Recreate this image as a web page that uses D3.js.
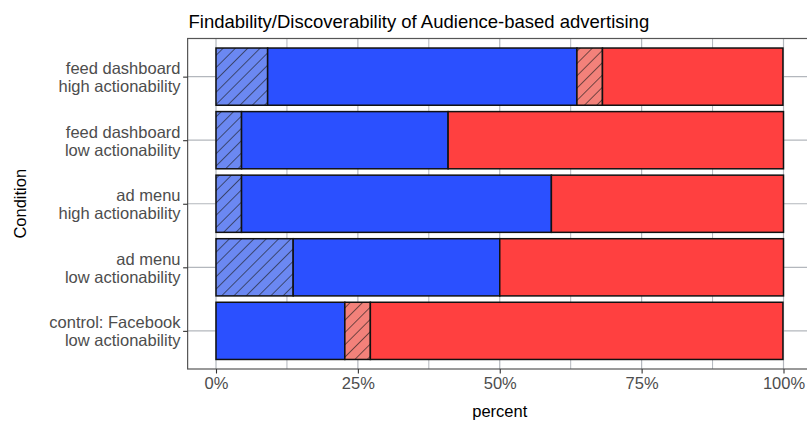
<!DOCTYPE html>
<html>
<head>
<meta charset="utf-8">
<script src="https://cdn.jsdelivr.net/npm/d3@7"></script>
<style>
  html, body { margin: 0; padding: 0; background: #fff; }
  text { font-family: "Liberation Sans", Arial, Helvetica, sans-serif; }
</style>
</head>
<body>
<svg id="chart" width="807" height="422"></svg>
<script>
// ---- data ----
const categories = [
  ["feed dashboard", "high actionability"],
  ["feed dashboard", "low actionability"],
  ["ad menu", "high actionability"],
  ["ad menu", "low actionability"],
  ["control: Facebook", "low actionability"]
];
const seriesKeys = ["hatchedBlue", "blue", "hatchedRed", "red"];
const hatchedBlue = [9.1, 4.5, 4.5, 13.6, 0];
const blue        = [54.5, 36.4, 54.6, 36.4, 22.7];
const hatchedRed  = [4.5, 0, 0, 0, 4.5];
const red         = [31.8, 59.1, 40.9, 50.0, 72.7];
const xTicks = [0, 25, 50, 75, 100];
const xMinor = [12.5, 37.5, 62.5, 87.5];
const title = "Findability/Discoverability of Audience-based advertising";
const xTitle = "percent";
const yTitle = "Condition";

const fills = {
  hatchedBlue: "url(#hatchBlue)",
  blue: "#2b50ff",
  hatchedRed: "url(#hatchRed)",
  red: "#ff4040"
};

// ---- build ----
const svg = d3.select("#chart");
const catKeys = categories.map(c => c.join("\n"));
const rows = catKeys.map((k, i) => ({
  key: k,
  hatchedBlue: hatchedBlue[i], blue: blue[i], hatchedRed: hatchedRed[i], red: red[i]
}));

const x = d3.scaleLinear().domain([0, 100]).range([216, 783.5]);
const panelTop = 38.5, panelBottom = 369;
const y = d3.scalePoint().domain(catKeys).range([panelTop, panelBottom]).padding(0.6);
const barH = y.step() * 0.9;
const panelLeft = x(-5), panelRight = x(105);

// patterns
const defs = svg.append("defs");
function hatch(id, bg) {
  const p = defs.append("pattern").attr("id", id)
    .attr("patternUnits", "userSpaceOnUse")
    .attr("width", 8.7).attr("height", 8.7)
    .attr("patternTransform", "rotate(45)");
  p.append("rect").attr("width", 8.7).attr("height", 8.7).attr("fill", bg);
  p.append("line").attr("x1", 0).attr("x2", 0).attr("y1", 0).attr("y2", 8.7)
    .attr("stroke", "#1a1a1a").attr("stroke-width", 1.4).attr("stroke-opacity", 0.85);
}
hatch("hatchBlue", "#6b88f2");
hatch("hatchRed", "#f3817a");

// grid
const grid = svg.append("g");
grid.selectAll("line.minor").data(xMinor).join("line")
  .attr("x1", d => x(d)).attr("x2", d => x(d))
  .attr("y1", panelTop).attr("y2", panelBottom)
  .attr("stroke", "#b3b7bd").attr("stroke-width", 1);
grid.selectAll("line.major").data(xTicks).join("line")
  .attr("x1", d => x(d)).attr("x2", d => x(d))
  .attr("y1", panelTop).attr("y2", panelBottom)
  .attr("stroke", "#b3b7bd").attr("stroke-width", 1.2);
grid.selectAll("line.h").data(catKeys).join("line")
  .attr("x1", panelLeft).attr("x2", panelRight)
  .attr("y1", d => y(d)).attr("y2", d => y(d))
  .attr("stroke", "#b3b7bd").attr("stroke-width", 1.2);

// bars
const stack = d3.stack().keys(seriesKeys)(rows);
const barsG = svg.append("g");
stack.forEach(layer => {
  barsG.selectAll(null).data(layer.filter(d => d[1] - d[0] > 0)).join("rect")
    .attr("x", d => x(d[0]))
    .attr("width", d => x(d[1]) - x(d[0]))
    .attr("y", d => y(d.data.key) - barH / 2)
    .attr("height", barH)
    .attr("fill", fills[layer.key])
    .attr("stroke", "#111")
    .attr("stroke-width", 1.5);
});

// panel border
svg.append("rect")
  .attr("x", panelLeft).attr("y", panelTop)
  .attr("width", panelRight - panelLeft).attr("height", panelBottom - panelTop)
  .attr("fill", "none").attr("stroke", "#555").attr("stroke-width", 1.2);

// axes
const xAxis = svg.append("g").attr("transform", `translate(0,${panelBottom})`)
  .call(d3.axisBottom(x).tickValues(xTicks).tickFormat(d => d + "%").tickSize(4.5).tickPadding(4));
xAxis.select(".domain").remove();
xAxis.selectAll(".tick line").attr("stroke", "#333").attr("stroke-width", 1.1);
xAxis.selectAll(".tick text").attr("fill", "#4d4d4d").style("font-size", "16.5px")
  .style("font-family", "'Liberation Sans', Arial, sans-serif");

const yAxis = svg.append("g").attr("transform", `translate(${panelLeft},0)`)
  .call(d3.axisLeft(y).tickSize(4.5).tickFormat(""));
yAxis.select(".domain").remove();
yAxis.selectAll(".tick line").attr("stroke", "#333").attr("stroke-width", 1.1);

const ylab = svg.append("g");
categories.forEach((c, i) => {
  const cy = y(catKeys[i]);
  const t = ylab.append("text")
    .attr("text-anchor", "end")
    .attr("fill", "#4d4d4d")
    .style("font-size", "16.5px");
  t.append("tspan").attr("x", 180.5).attr("y", cy - 2.5).text(c[0]);
  t.append("tspan").attr("x", 180.5).attr("y", cy + 15.5).text(c[1]);
});

// titles
svg.append("text").attr("x", 188.5).attr("y", 27.5)
  .style("font-size", "18.5px").attr("fill", "#000").text(title);
svg.append("text").attr("x", x(50)).attr("y", 416.5).attr("text-anchor", "middle")
  .style("font-size", "16.5px").attr("fill", "#000").text(xTitle);
svg.append("text").attr("transform", `translate(25.5,${(panelTop + panelBottom) / 2}) rotate(-90)`)
  .attr("text-anchor", "middle")
  .style("font-size", "16.5px").attr("fill", "#000").text(yTitle);
</script>
</body>
</html>
